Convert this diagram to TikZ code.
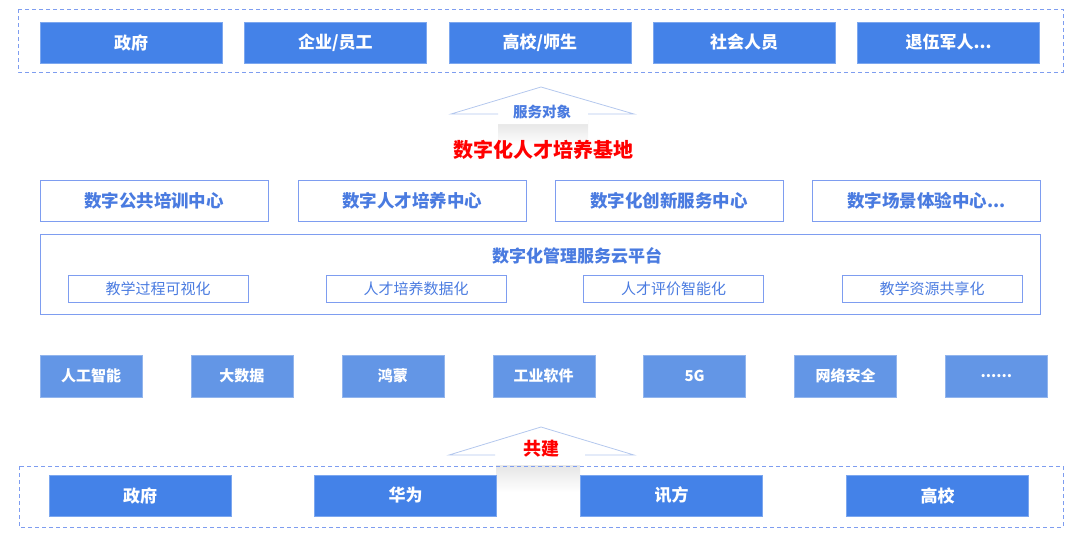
\documentclass[tikz,border=0pt]{standalone}
\usepackage{fontspec}
\setmainfont{Noto Sans CJK SC}
\usetikzlibrary{positioning}
\definecolor{mainblue}{HTML}{4482E8}
\definecolor{techblue}{HTML}{6396E6}
\definecolor{lineblue}{HTML}{7E9DF0}
\definecolor{textblue}{HTML}{4A7BE0}
\definecolor{roofblue}{HTML}{B4C8EE}
\tikzset{
  group/.style={draw=lineblue, line width=1pt, dash pattern=on 4pt off 3pt},
  target/.style={fill=mainblue, draw=mainblue!70!white, minimum width=182pt, minimum height=41pt,
    text=white, font=\fontsize{17}{17}\selectfont\bfseries, inner sep=0pt},
  center/.style={draw=lineblue, line width=1pt, minimum width=228pt, minimum height=41pt,
    text=textblue, font=\fontsize{17.5}{17.5}\selectfont\bfseries, inner sep=0pt},
  feature/.style={draw=lineblue, line width=0.8pt, minimum width=180pt, minimum height=27pt,
    text=textblue, font=\fontsize{15}{15}\selectfont, inner sep=0pt},
  tech/.style={fill=techblue, draw=techblue!70!white, minimum width=102pt, minimum height=42pt,
    text=white, font=\fontsize{15}{15}\selectfont\bfseries, inner sep=0pt},
  roof/.style={draw=roofblue, line width=0.8pt},
}
\begin{document}
\begin{tikzpicture}[x=1pt, y=-1pt]
    \useasboundingbox (0,0) rectangle (1080,536);

    % service targets
    \draw[group] (18,9) rectangle (1063,72);
    \node[target] (gov) at (131,42.5) {政府};
    \node[target, right=22pt of gov] (firm) {企业/员工};
    \node[target, right=22pt of firm] (school) {高校/师生};
    \node[target, right=22pt of school] (public) {社会人员};
    \node[target, right=22pt of public] (veteran) {退伍军人...};

    % serve arrow
    \fill[top color=gray!22, bottom color=white, draw=none] (498,120) rectangle (588,145);
    \fill[white] (451,114) -- (541,87) -- (634,114) -- (588,114) -- (588,124) -- (498,124) -- (498,114) -- cycle;
    \draw[roof] (498,114) -- (451,114) -- (541,87) -- (634,114) -- (588,114);
    \node[text=textblue, font=\fontsize{14.5}{14.5}\selectfont\bfseries] (serve) at (542,112) {服务对象};
    \node[text=red, font=\fontsize{20}{20}\selectfont\bfseries] (base) at (543,150) {数字化人才培养基地};

    % centers
    \node[center] (train) at (154,200.5) {数字公共培训中心};
    \node[center] (talent) at (412,200.5) {数字人才培养中心};
    \node[center] (innov) at (669,200.5) {数字化创新服务中心};
    \node[center] (scene) at (926.5,200.5) {数字场景体验中心...};

    % cloud platform
    \node[draw=lineblue, line width=1pt, minimum width=1000pt, minimum height=80pt, inner sep=0pt]
      (cloud) at (540,274) {};
    \node[text=textblue, font=\fontsize{17}{17}\selectfont\bfseries] (cloudname) at (577,256) {数字化管理服务云平台};
    \node[feature] (visual) at (158,288.5) {教学过程可视化};
    \node[feature] (data) at (416,288.5) {人才培养数据化};
    \node[feature] (eval) at (673.5,288.5) {人才评价智能化};
    \node[feature] (share) at (932,288.5) {教学资源共享化};

    % technologies
    \node[tech] (ai) at (91,376) {人工智能};
    \node[tech, right=48.5pt of ai] (bigdata) {大数据};
    \node[tech, right=48.5pt of bigdata] (harmony) {鸿蒙};
    \node[tech, right=48.5pt of harmony] (software) {工业软件};
    \node[tech, right=48.5pt of software] (fiveg) {5G};
    \node[tech, right=48.5pt of fiveg] (security) {网络安全};
    \node[tech, right=48.5pt of security] (more) {......};

    % partners
    \fill[top color=gray!22, bottom color=white, draw=none] (496,462) rectangle (580,492);
    \draw[group] (19,466) rectangle (1063,527);
    \node[target] (pgov) at (140,495.5) {政府};
    \node[target] (huawei) at (405.5,495.5) {华为};
    \node[target] (xunfang) at (671.5,495.5) {讯方};
    \node[target] (college) at (937.5,495.5) {高校};

    % build arrow
    \fill[white] (449,455) -- (541,427) -- (634,455) -- (585,455) -- (585,465) -- (495,465) -- (495,455) -- cycle;
    \draw[roof] (495,455) -- (449,455) -- (541,427) -- (634,455) -- (585,455);
    \node[text=red, font=\fontsize{18}{18}\selectfont\bfseries] (build) at (541,449) {共建};

\end{tikzpicture}
\end{document}
